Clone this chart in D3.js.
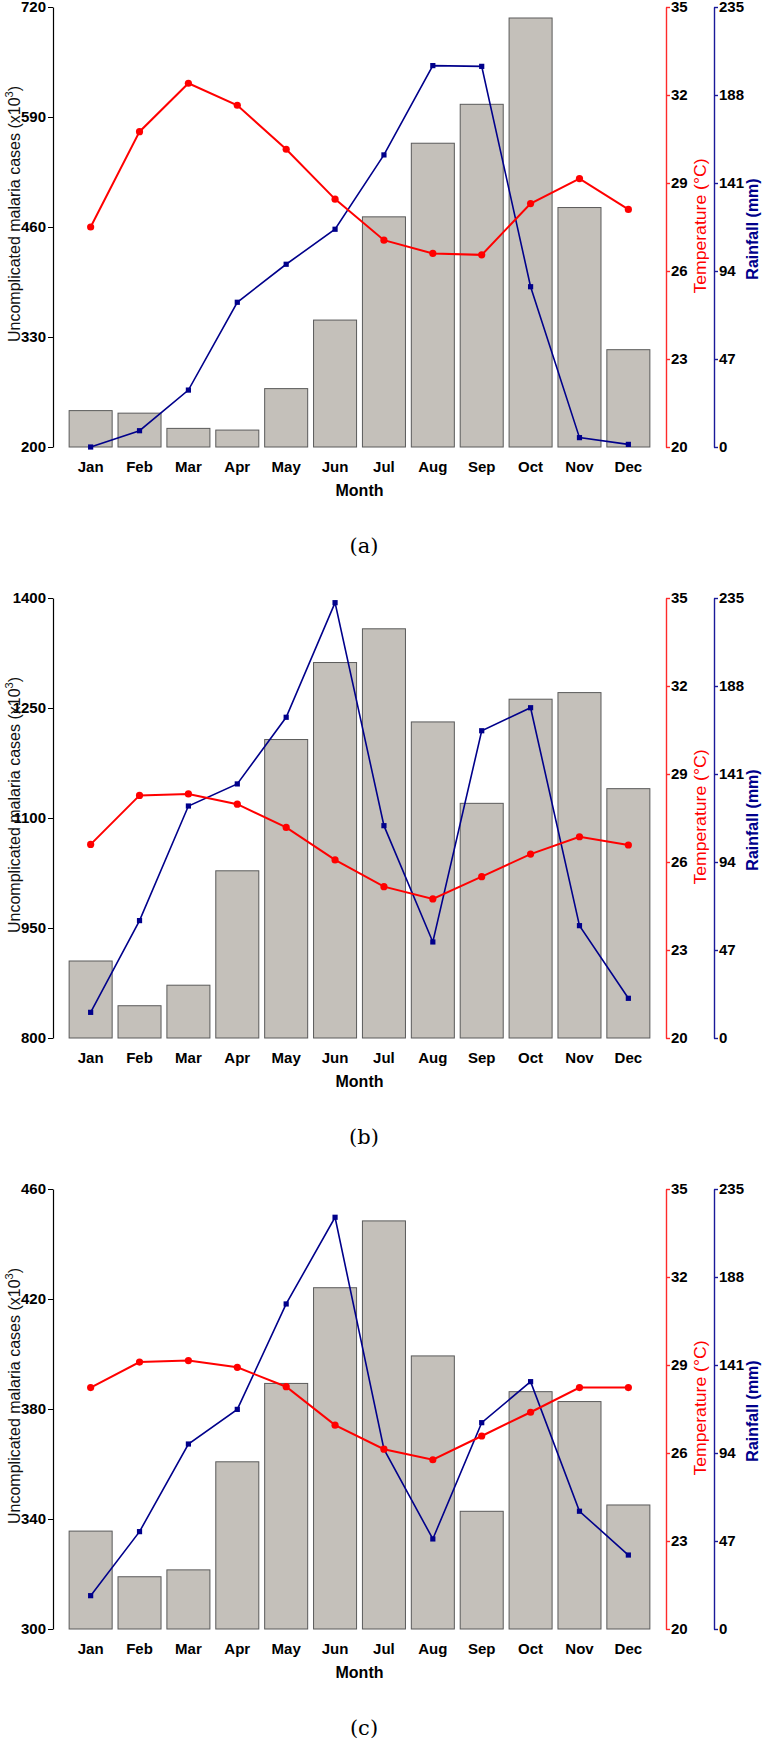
<!DOCTYPE html>
<html>
<head>
<meta charset="utf-8">
<script src="https://cdn.jsdelivr.net/npm/d3@7"></script>
<style>
  html, body { margin: 0; padding: 0; background: #fff; }
  svg { display: block; }
  text { font-family: "Liberation Sans", Arial, sans-serif; }
</style>
</head>
<body>
<script>
const months = ["Jan","Feb","Mar","Apr","May","Jun","Jul","Aug","Sep","Oct","Nov","Dec"];

const casesA = [243, 240, 222, 220, 269, 350, 472, 559, 605, 707, 483, 315];
const tempA  = [27.5, 30.75, 32.4, 31.65, 30.15, 28.45, 27.05, 26.6, 26.55, 28.3, 29.15, 28.1];
const rainA  = [0, 8.7, 30.4, 77.3, 97.6, 116.3, 156, 203.7, 203.3, 85.6, 5.0, 1.4];

const casesB = [905, 844, 872, 1028, 1207, 1312, 1358, 1231, 1120, 1262, 1271, 1140];
const tempB  = [26.6, 28.27, 28.32, 27.97, 27.18, 26.07, 25.16, 24.74, 25.5, 26.27, 26.86, 26.58];
const rainB  = [13.7, 62.7, 123.9, 135.7, 171.3, 232.5, 113.4, 51.3, 164.1, 176.4, 60, 21.2];

const casesC = [335.6, 319, 321.5, 360.8, 389.3, 424.1, 448.4, 399.3, 342.8, 386.3, 382.7, 345.1];
const tempC  = [28.23, 29.1, 29.15, 28.92, 28.26, 26.95, 26.13, 25.77, 26.58, 27.39, 28.23, 28.23];
const rainC  = [17.8, 52, 98.8, 117.3, 173.6, 219.9, 96, 48.1, 110.2, 132.1, 62.9, 39.5];

const casesTicksA = [200, 330, 460, 590, 720];
const casesTicksB = [800, 950, 1100, 1250, 1400];
const casesTicksC = [300, 340, 380, 420, 460];
const tempTicks = [20, 23, 26, 29, 32, 35];
const rainTicks = [0, 47, 94, 141, 188, 235];
const captions = ["(a)", "(b)", "(c)"];

const W = 762, H = 1740;
const svg = d3.select("body").append("svg").attr("width", W).attr("height", H);

const PL = 53, PR = 666, RAINX = 714, PH = 440;
const panelTops = [7, 598, 1189];

const x = d3.scaleBand().domain(months).range([PL, PR]).paddingInner(0.12).paddingOuter(0.33);
const fmt = d3.format("d");

function panel(top, cases, temp, rain, cTicks, caption) {
  const bottom = top + PH;
  const g = svg.append("g");
  const yC = d3.scaleLinear().domain([cTicks[0], cTicks[cTicks.length - 1]]).range([bottom, top]);
  const yT = d3.scaleLinear().domain([20, 35]).range([bottom, top]);
  const yR = d3.scaleLinear().domain([0, 235]).range([bottom, top]);

  // bars
  g.append("g").selectAll("rect").data(cases).join("rect")
    .attr("x", (d, i) => x(months[i]))
    .attr("y", d => yC(d))
    .attr("width", x.bandwidth())
    .attr("height", d => bottom - yC(d))
    .attr("fill", "#c4c0ba")
    .attr("stroke", "#5a5a5a")
    .attr("stroke-width", 1);

  const cx = i => x(months[i]) + x.bandwidth() / 2;

  // rainfall line
  const lr = d3.line().x((d, i) => cx(i)).y(d => yR(d));
  g.append("path").datum(rain).attr("d", lr).attr("fill", "none")
    .attr("stroke", "#00008b").attr("stroke-width", 1.6);
  g.append("g").selectAll("rect").data(rain).join("rect")
    .attr("x", (d, i) => cx(i) - 2.6).attr("y", d => yR(d) - 2.6)
    .attr("width", 5.2).attr("height", 5.2).attr("fill", "#00008b");

  // temperature line
  const lt = d3.line().x((d, i) => cx(i)).y(d => yT(d));
  g.append("path").datum(temp).attr("d", lt).attr("fill", "none")
    .attr("stroke", "#ff0000").attr("stroke-width", 2);
  g.append("g").selectAll("circle").data(temp).join("circle")
    .attr("cx", (d, i) => cx(i)).attr("cy", d => yT(d))
    .attr("r", 3.6).attr("fill", "#ff0000");

  // left axis
  const ax = g.append("g").attr("transform", `translate(${PL},0)`)
    .call(d3.axisLeft(yC).tickValues(cTicks).tickFormat(fmt).tickSize(5).tickSizeOuter(0).tickPadding(2));
  ax.select(".domain").attr("stroke", "#000").attr("stroke-width", 1.2);
  ax.selectAll(".tick line").attr("stroke", "#000");
  ax.selectAll("text").attr("font-size", 15).attr("font-weight", "bold").attr("fill", "#000");

  // temperature axis
  const at = g.append("g").attr("transform", `translate(${PR},0)`)
    .call(d3.axisRight(yT).tickValues(tempTicks).tickFormat(fmt).tickSize(4).tickSizeOuter(0).tickPadding(1));
  at.select(".domain").attr("stroke", "#ff2a2a").attr("stroke-width", 1.4);
  at.selectAll(".tick line").attr("stroke", "#ff2a2a").attr("stroke-width", 1.4);
  at.selectAll("text").attr("font-size", 15).attr("font-weight", "bold").attr("fill", "#000");

  // rainfall axis
  const ar = g.append("g").attr("transform", `translate(${RAINX},0)`)
    .call(d3.axisRight(yR).tickValues(rainTicks).tickFormat(fmt).tickSize(4).tickSizeOuter(0).tickPadding(1));
  ar.select(".domain").attr("stroke", "#1a1a99").attr("stroke-width", 1.4);
  ar.selectAll(".tick line").attr("stroke", "#1a1a99").attr("stroke-width", 1.4);
  ar.selectAll("text").attr("font-size", 15).attr("font-weight", "bold").attr("fill", "#000");

  // month axis
  const am = g.append("g").attr("transform", `translate(0,${bottom})`)
    .call(d3.axisBottom(x).tickSize(0).tickPadding(14));
  am.select(".domain").remove();
  am.selectAll("text").attr("font-size", 15).attr("font-weight", "bold").attr("fill", "#000");

  // titles
  g.append("text").attr("x", (PL + PR) / 2).attr("y", bottom + 49)
    .attr("text-anchor", "middle").attr("font-size", 16).attr("font-weight", "bold")
    .text("Month");

  const lt1 = g.append("text")
    .attr("transform", `translate(20,${top + 207}) rotate(-90)`)
    .attr("text-anchor", "middle").attr("font-size", 16).attr("fill", "#111");
  lt1.append("tspan").text("Uncomplicated malaria cases (x10");
  lt1.append("tspan").attr("dy", -7).attr("font-size", 11).text("3");
  lt1.append("tspan").attr("dy", 7).text(")");

  g.append("text")
    .attr("transform", `translate(706,${top + 219}) rotate(-90) scale(1.1,1)`)
    .attr("text-anchor", "middle").attr("font-size", 16).attr("fill", "#ff0000")
    .text("Temperature (°C)");

  g.append("text")
    .attr("transform", `translate(758,${top + 222}) rotate(-90)`)
    .attr("text-anchor", "middle").attr("font-size", 16).attr("fill", "#00008b")
    .attr("font-weight", "bold")
    .text("Rainfall (mm)");

  g.append("text").attr("x", 364).attr("y", bottom + 106)
    .attr("text-anchor", "middle").attr("font-size", 21)
    .style("font-family", '"DejaVu Serif", "Liberation Serif", serif')
    .text(caption);
}

panel(panelTops[0], casesA, tempA, rainA, casesTicksA, captions[0]);
panel(panelTops[1], casesB, tempB, rainB, casesTicksB, captions[1]);
panel(panelTops[2], casesC, tempC, rainC, casesTicksC, captions[2]);
</script>
</body>
</html>
